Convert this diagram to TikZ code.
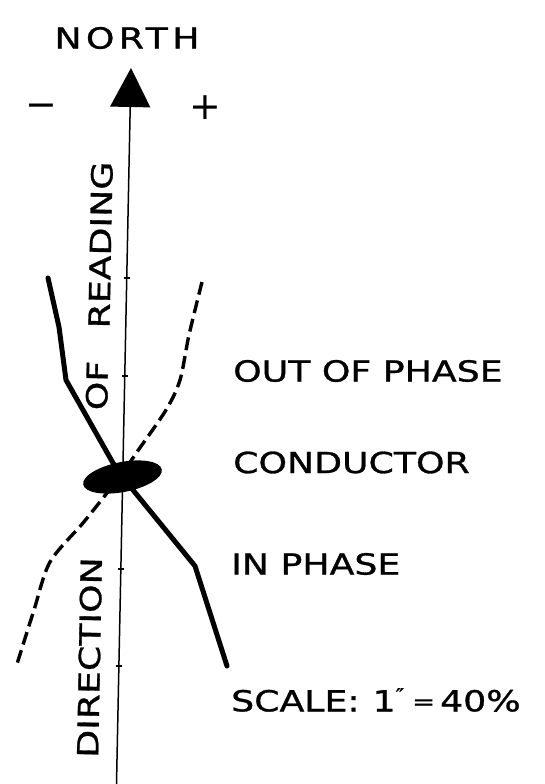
\documentclass[tikz,border=0pt]{standalone}
\usepackage{fontspec}
\setmainfont{DejaVu Sans}
\newfontfamily\handfont[FakeStretch=1.25, FakeBold=1]{DejaVu Sans}
\newfontfamily\northfont[FakeStretch=1.25, FakeBold=1, LetterSpace=15]{DejaVu Sans}
\usetikzlibrary{arrows.meta, calc, shapes.geometric}

\begin{document}
\begin{tikzpicture}[
    x=1pt, y=-1pt,
    >={Triangle[width=40pt, length=39pt]},
    lettering/.style={font=\handfont\fontsize{29}{32}\selectfont, inner sep=0pt, anchor=west},
    axislettering/.style={font=\handfont\fontsize{29}{32}\selectfont, inner sep=0pt, rotate=88.9},
    signmark/.style={font=\fontsize{38}{40}\selectfont, inner sep=0pt},
    solidcurve/.style={line width=5pt, line cap=round, line join=round},
    dashcurve/.style={line width=3.4pt, dash pattern=on 13pt off 6pt},
]
\useasboundingbox (0,0) rectangle (544,784);

% Direction axis
\coordinate (bot) at (116.5,784);
\coordinate (tip) at (131,68);
\draw[->, line width=1.5pt] (bot) -- (tip);
\node[font=\northfont\fontsize{29}{32}\selectfont, inner sep=0pt] (north) at (127,38) {NORTH};
\node[signmark] (minus) at (41.5,111) {−};
\node[signmark] (plus) at (205,108) {+};

% Ticks, one inch apart
\foreach \y in {278,376,569,666}
  \draw[line width=1.5pt] ($(bot)!{(784-\y)/716}!(tip)$) ++(-3,0) -- ++(6,0);

% Axis lettering
\node[axislettering] (direction) at (89.5,657.5) {DIRECTION};
\node[axislettering] (of) at (97,385.5) {OF};
\node[axislettering] (reading) at (100.5,245) {READING};

% In phase curve (solid)
\draw[solidcurve] (48,278) -- (59,327) -- (66,380) -- (113,463)
    -- (133,490) -- (195,566) -- (227,666);

% Out of phase curve (dashed)
\draw[dashcurve] plot[smooth, tension=0.5] coordinates {(202,282) (189,335) (180,380)
    (166,410) (137,452) (122,474) (107,493) (83,523) (50,562) (34,610) (17,664)};

% Conductor
\node[ellipse, fill, inner sep=0pt, minimum width=80pt, minimum height=30pt, rotate=11]
    (cond) at (122.5,477) {};

% Legend
\node[lettering] (outlbl) at (233,371) {OUT OF PHASE};
\node[lettering] (condlbl) at (233,462.5) {CONDUCTOR};
\node[lettering] (inlbl) at (231,564) {IN PHASE};
\node[lettering] (scalelbl) at (231,700)
    {SCALE:\hspace{13pt}1\raisebox{10pt}{\fontsize{18}{18}\selectfont ″}\hspace{8pt}\raisebox{2pt}{\fontsize{22}{22}\selectfont =}\hspace{5pt}40\%};

\end{tikzpicture}
\end{document}
